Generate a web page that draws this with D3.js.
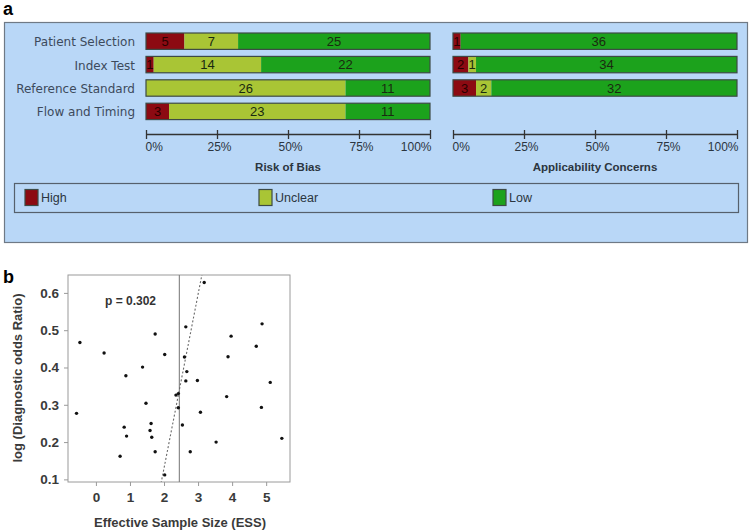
<!DOCTYPE html>
<html>
<head>
<meta charset="utf-8">
<script src="https://cdn.jsdelivr.net/npm/d3@7"></script>
<style>
  body { margin: 0; background: #fff; }
  svg { display: block; font-family: "Liberation Sans", Arial, sans-serif; }
</style>
</head>
<body>
<div id="chart"></div>
<script>
// ---- panel a data (number of studies) ----
const robDomains = ["Patient Selection", "Index Test", "Reference Standard", "Flow and Timing"];
const robHigh = [5, 1, 0, 3];
const robUnclear = [7, 14, 26, 23];
const robLow = [25, 22, 11, 11];

const appDomains = ["Patient Selection", "Index Test", "Reference Standard"];
const appHigh = [1, 2, 3];
const appUnclear = [0, 1, 2];
const appLow = [36, 34, 32];

const levels = ["High", "Unclear", "Low"];
const pctTicks = [0, 0.25, 0.5, 0.75, 1];

// ---- panel b data ----
const essX = [-0.47, 0.24, 0.88, 1.37, 1.74, 2.02, 2.35, 2.42, 2.64, 2.6, 2.67, 2.64, 2.98, 3.18,
  3.97, 3.88, 3.84, 4.71, 4.88, 5.12, -0.57, 0.83, 0.9, 0.71, 1.47, 1.62, 1.59, 1.64, 1.74,
  2.02, 2.42, 2.54, 2.77, 3.07, 3.53, 4.86, 5.46];
const logDOR = [0.467, 0.439, 0.378, 0.401, 0.49, 0.435, 0.326, 0.33, 0.509, 0.428, 0.389, 0.364,
  0.365, 0.628, 0.484, 0.429, 0.322, 0.457, 0.517, 0.36, 0.277, 0.24, 0.216, 0.162, 0.304, 0.25,
  0.231, 0.213, 0.174, 0.112, 0.292, 0.246, 0.174, 0.28, 0.2, 0.293, 0.21];
const essTicks = [0, 1, 2, 3, 4, 5];
const dorTicks = [0.1, 0.2, 0.3, 0.4, 0.5, 0.6];
const fitIntercept = -0.802;
const fitSlope = 0.466;
const essCut = 2.45;
const pLabel = "p = 0.302";

const colors = { High: "#8c0a12", Unclear: "#a9c535", Low: "#1ca21c" };

const W = 751, H = 531;
const svg = d3.select("#chart").append("svg").attr("width", W).attr("height", H);

// ================= panel a =================
svg.append("text").attr("x", 3).attr("y", 15)
  .style("font-size", "18px").style("font-weight", "bold").text("a");

svg.append("rect").attr("x", 4.5).attr("y", 22.5).attr("width", 743).attr("height", 220)
  .attr("fill", "#b9d7f7").attr("stroke", "#6f7985").attr("stroke-width", 1.2);

const yRow = d3.scaleBand().domain(robDomains).range([29.5, 123.1])
  .paddingInner(0.3).paddingOuter(0.15);

function drawBlock(xStart, xEnd, domains, high, unclear, low, title) {
  const x = d3.scaleLinear().domain([0, 1]).range([xStart, xEnd]);
  const rows = domains.map((d, i) => {
    const total = high[i] + unclear[i] + low[i];
    let acc = 0;
    const segs = [high[i], unclear[i], low[i]].map((v, j) => {
      const s = { level: levels[j], v: v, x0: acc / total, x1: (acc + v) / total };
      acc += v;
      return s;
    });
    return { domain: d, segs: segs };
  });

  const g = svg.append("g");
  const rowG = g.selectAll("g.row").data(rows).join("g").attr("class", "row")
    .attr("transform", d => `translate(0,${yRow(d.domain)})`);

  rowG.selectAll("rect.seg").data(d => d.segs.filter(s => s.v > 0)).join("rect")
    .attr("class", "seg")
    .attr("x", s => x(s.x0)).attr("width", s => x(s.x1) - x(s.x0))
    .attr("y", 0).attr("height", yRow.bandwidth())
    .attr("fill", s => colors[s.level]);

  rowG.append("rect")
    .attr("x", x(0)).attr("width", x(1) - x(0))
    .attr("y", 0).attr("height", yRow.bandwidth())
    .attr("fill", "none").attr("stroke", "#3d4a45").attr("stroke-width", 1.2);

  rowG.selectAll("text.num").data(d => d.segs.filter(s => s.v > 0)).join("text")
    .attr("class", "num")
    .attr("x", s => (x(s.x0) + x(s.x1)) / 2)
    .attr("y", yRow.bandwidth() / 2 + 4.8)
    .attr("text-anchor", "middle")
    .style("font-size", "13px")
    .attr("fill", s => s.level === "High" ? "#2a0000" : "#1a2a10")
    .text(s => s.v);

  // axis
  const axis = d3.axisBottom(x).tickValues(pctTicks).tickFormat(d3.format(".0%"))
    .tickSize(5).tickSizeOuter(0);
  const ag = g.append("g").attr("transform", "translate(0,134)").call(axis);
  ag.select(".domain").attr("stroke", "#333").attr("stroke-width", 1.3);
  ag.selectAll(".tick line").attr("y1", -4).attr("y2", 5).attr("stroke", "#333").attr("stroke-width", 1.3);
  ag.selectAll(".tick text").attr("y", 8)
    .attr("text-anchor", d => d === 0 ? "start" : d === 1 ? "end" : "middle")
    .attr("dx", d => d === 0 ? -1 : d === 1 ? 1 : 2)
    .style("font-size", "12px")
    .attr("fill", "#2b3540");

  g.append("text").attr("x", (xStart + xEnd) / 2).attr("y", 171)
    .attr("text-anchor", "middle")
    .style("font-size", "11.5px").style("font-weight", "bold")
    .style("font-family", "'Liberation Sans Narrow', 'Liberation Sans', Arial, sans-serif")
    .attr("fill", "#2b3540").text(title);
  return g;
}

drawBlock(146, 430, robDomains, robHigh, robUnclear, robLow, "Risk of Bias");
drawBlock(453, 737, appDomains, appHigh, appUnclear, appLow, "Applicability Concerns");

svg.append("g").selectAll("text").data(robDomains).join("text")
  .attr("x", 135).attr("y", d => yRow(d) + yRow.bandwidth() / 2 + 5)
  .attr("text-anchor", "end")
  .style("font-size", "12px").style("font-family", "'DejaVu Sans', sans-serif")
  .attr("fill", "#3d4a5c")
  .text(d => d);

// legend
svg.append("rect").attr("x", 14.5).attr("y", 183.5).attr("width", 724).attr("height", 29)
  .attr("fill", "none").attr("stroke", "#56606c").attr("stroke-width", 1.2);
const legX = d3.scalePoint().domain(levels).range([25, 493]);
const lg = svg.append("g").selectAll("g").data(levels).join("g")
  .attr("transform", d => `translate(${legX(d)},189.5)`);
lg.append("rect").attr("width", 13).attr("height", 16)
  .attr("fill", d => colors[d]).attr("stroke", "#3d4a45").attr("stroke-width", 1.2);
lg.append("text").attr("x", 16).attr("y", 12.5)
  .style("font-size", "12.5px").attr("fill", "#2b3540").text(d => d);

// ================= panel b =================
svg.append("text").attr("x", 3).attr("y", 283)
  .style("font-size", "18px").style("font-weight", "bold").text("b");

const bx = d3.scaleLinear().domain([-0.82, 5.7]).range([68, 290]);
const by = d3.scaleLinear().domain([0.093, 0.648]).range([482, 275]);

const pb = svg.append("g");
pb.append("clipPath").attr("id", "plotclip").append("rect")
  .attr("x", 68).attr("y", 275).attr("width", 222).attr("height", 207);

pb.append("rect").attr("x", 68).attr("y", 275).attr("width", 222).attr("height", 207)
  .attr("fill", "none").attr("stroke", "#9a9a9a").attr("stroke-width", 1);

const yAx = pb.append("g").attr("transform", "translate(68,0)")
  .call(d3.axisLeft(by).tickValues(dorTicks).tickFormat(d3.format(".1f")).tickSize(4).tickSizeOuter(0));
yAx.select(".domain").remove();
yAx.selectAll(".tick line").attr("stroke", "#9a9a9a");
yAx.selectAll(".tick text").attr("x", -9)
  .style("font-size", "13.5px").style("font-weight", "bold").attr("fill", "#3a3a3a");

const xAx = pb.append("g").attr("transform", "translate(0,482)")
  .call(d3.axisBottom(bx).tickValues(essTicks).tickFormat(d3.format("d")).tickSize(4).tickSizeOuter(0));
xAx.select(".domain").remove();
xAx.selectAll(".tick line").attr("stroke", "#9a9a9a");
xAx.selectAll(".tick text").attr("y", 10)
  .style("font-size", "13.5px").style("font-weight", "bold").attr("fill", "#3a3a3a");

const clipped = pb.append("g").attr("clip-path", "url(#plotclip)");
clipped.append("line")
  .attr("x1", bx(essCut)).attr("x2", bx(essCut))
  .attr("y1", by.range()[0]).attr("y2", by.range()[1])
  .attr("stroke", "#808080").attr("stroke-width", 1.1);

const fitLine = d3.line().x(d => bx(d)).y(d => by(fitIntercept + fitSlope * d));
clipped.append("path").datum(bx.domain())
  .attr("d", fitLine).attr("fill", "none")
  .attr("stroke", "#6a6a6a").attr("stroke-width", 1.1).attr("stroke-dasharray", "2,2");

clipped.selectAll("circle").data(essX.map((v, i) => [v, logDOR[i]])).join("circle")
  .attr("cx", d => bx(d[0])).attr("cy", d => by(d[1])).attr("r", 1.7).attr("fill", "#111");

pb.append("text").attr("x", 105).attr("y", 305)
  .style("font-size", "12px").style("font-weight", "bold").attr("fill", "#333").text(pLabel);

pb.append("text").attr("transform", "translate(22,378) rotate(-90)")
  .attr("text-anchor", "middle")
  .style("font-size", "13px").style("font-weight", "bold").attr("fill", "#3a3a3a")
  .text("log (Diagnostic odds Ratio)");

pb.append("text").attr("x", 180).attr("y", 527)
  .attr("text-anchor", "middle")
  .style("font-size", "13px").style("font-weight", "bold").attr("fill", "#3a3a3a")
  .text("Effective Sample Size (ESS)");
</script>
</body>
</html>
